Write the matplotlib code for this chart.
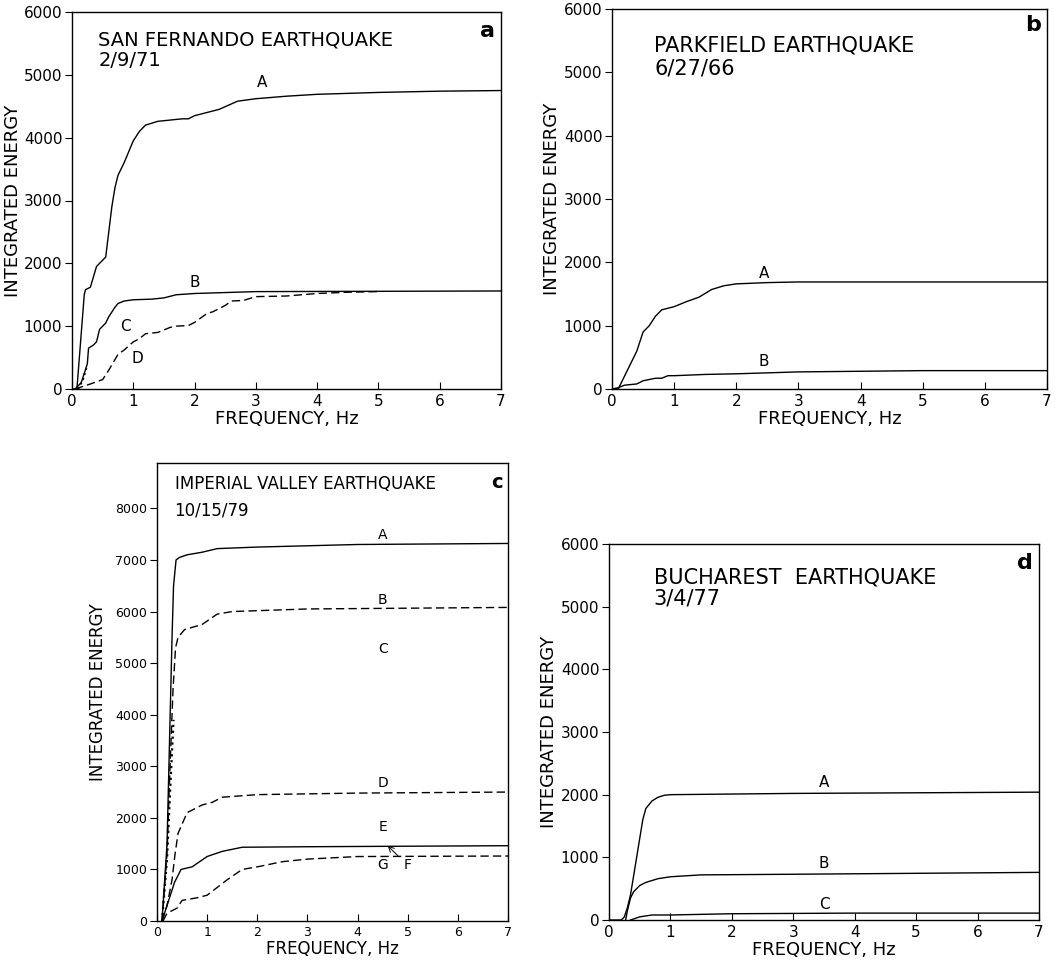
import numpy as np
import matplotlib.pyplot as plt

plt.rcParams['font.family'] = ['DejaVu Sans']

# ---- panel a: San Fernando ----
a_A_x = [0, 0.08, 0.2, 0.22, 0.3, 0.4, 0.45, 0.55, 0.6, 0.65, 0.7, 0.75, 0.85, 1.0, 1.1, 1.2, 1.4, 1.8, 1.9, 2.0, 2.4, 2.7, 3.0, 3.5, 4.0, 5.0, 6.0, 7.0]
a_A_y = [0, 0, 1500, 1580, 1620, 1950, 2000, 2100, 2500, 2900, 3200, 3400, 3600, 3950, 4100, 4200, 4260, 4300, 4300, 4350, 4450, 4580, 4620, 4660, 4690, 4720, 4740, 4750]
a_B_x = [0.05, 0.15, 0.25, 0.27, 0.35, 0.4, 0.45, 0.5, 0.55, 0.6, 0.7, 0.75, 0.85, 1.0, 1.3, 1.5, 1.7, 2.0, 3.0, 7.0]
a_B_y = [0, 100, 400, 650, 700, 750, 950, 1000, 1050, 1150, 1300, 1360, 1400, 1420, 1430, 1450, 1500, 1520, 1550, 1560]
a_C_x = [0.1, 0.18, 0.25]
a_C_y = [0, 150, 380]
a_D_x = [0.05, 0.3, 0.5, 0.6, 0.75, 0.85, 1.0, 1.1, 1.2, 1.4, 1.6, 1.7, 1.9, 2.0, 2.2, 2.3, 2.5, 2.6, 2.8, 3.0, 3.5, 4.0, 4.5, 5.0]
a_D_y = [0, 80, 150, 300, 550, 620, 750, 800, 880, 900, 980, 1000, 1010, 1060, 1200, 1230, 1330, 1400, 1410, 1470, 1480, 1520, 1540, 1550]

# ---- panel b: Parkfield ----
b_A_x = [0, 0.1, 0.2, 0.4, 0.5, 0.6, 0.7, 0.8, 1.0, 1.2, 1.4, 1.6, 1.8, 2.0, 2.5, 3.0, 7.0]
b_A_y = [0, 0, 200, 600, 900, 1000, 1150, 1250, 1300, 1380, 1450, 1570, 1630, 1660, 1680, 1690, 1690]
b_B_x = [0, 0.1, 0.2, 0.4, 0.5, 0.7, 0.8, 0.9, 1.0, 1.5, 2.0, 3.0, 5.0, 7.0]
b_B_y = [0, 20, 60, 80, 130, 170, 170, 210, 210, 230, 240, 270, 290, 290]

# ---- panel c: Imperial Valley ----
c_A_x = [0.1, 0.2, 0.25, 0.3, 0.33, 0.38, 0.45, 0.6, 0.9, 1.2, 2.0, 4.0, 7.0]
c_A_y = [0, 1500, 3500, 5500, 6500, 7000, 7050, 7100, 7150, 7220, 7250, 7300, 7320]
c_B_x = [0.1, 0.2, 0.26, 0.32, 0.37, 0.42, 0.55, 0.9, 1.2, 1.5, 3.0, 7.0]
c_B_y = [0, 1300, 3000, 4500, 5300, 5500, 5650, 5750, 5950, 6000, 6050, 6080]
c_C_x = [0.1, 0.2, 0.27, 0.33]
c_C_y = [0, 1200, 2700, 3900]
c_D_x = [0.1, 0.2, 0.3, 0.36, 0.42, 0.6, 0.9, 1.1, 1.3, 2.0, 4.0, 7.0]
c_D_y = [0, 300, 800, 1300, 1700, 2100, 2250, 2300, 2400, 2450, 2480, 2500]
c_E_x = [0.1, 0.2, 0.35, 0.48, 0.7, 1.0, 1.3, 1.7, 3.0, 7.0]
c_E_y = [0, 300, 750, 1000, 1050, 1250, 1350, 1430, 1440, 1460]
c_G_x = [0.12, 0.2, 0.4, 0.5, 0.8, 1.0, 1.2, 1.4, 1.7, 2.0, 2.5, 3.0, 4.0, 7.0]
c_G_y = [0, 150, 250, 400, 450, 500, 650, 800, 1000, 1050, 1150, 1200, 1250, 1260]

# ---- panel d: Bucharest ----
d_A_x = [0, 0.2, 0.25, 0.3, 0.35, 0.4, 0.5, 0.55, 0.6, 0.7, 0.8, 0.9, 1.0, 2.0, 3.0, 7.0]
d_A_y = [0, 0, 50, 200, 400, 700, 1300, 1600, 1780, 1900, 1960, 1990, 2000, 2010, 2020, 2040]
d_B_x = [0.27, 0.3, 0.35, 0.4, 0.5, 0.6, 0.8, 1.0, 1.5, 3.0, 7.0]
d_B_y = [0, 150, 350, 450, 550, 600, 660, 690, 720, 730, 760]
d_C_x = [0.35, 0.5, 0.7, 1.0, 2.0, 4.0, 7.0]
d_C_y = [0, 50, 80, 80, 100, 110, 110]

DASH = (0, (6, 3))
LW = 1.0


def setup_axes(ax, ymax, yticks, fs_tick, fs_label, pad=2):
    ax.set_xlim(0, 7)
    ax.set_ylim(0, ymax)
    ax.set_xticks(range(0, 8))
    ax.set_yticks(yticks)
    ax.tick_params(axis='x', direction='in', length=5, labelsize=fs_tick, width=0.8)
    ax.tick_params(axis='y', direction='out', length=5, labelsize=fs_tick, width=0.8, pad=2)
    ax.set_xlabel("FREQUENCY, Hz", fontsize=fs_label, labelpad=1)
    ax.set_ylabel("INTEGRATED ENERGY", fontsize=fs_label, labelpad=pad)
    for s in ax.spines.values():
        s.set_linewidth(1.0)


fig = plt.figure(figsize=(10.55, 9.61), dpi=100)
W, H = 1055.0, 961.0


def box(l, r, t, b):
    return [l / W, 1 - b / H, (r - l) / W, (b - t) / H]


# panel a
ax = fig.add_axes(box(72, 501, 12, 389))
ax.plot(a_A_x, a_A_y, 'k-', lw=LW)
ax.plot(a_B_x, a_B_y, 'k-', lw=LW)
ax.plot(a_C_x, a_C_y, 'k:', lw=1.4)
ax.plot(a_D_x, a_D_y, 'k', ls=DASH, lw=LW)
setup_axes(ax, 6000, range(0, 6001, 1000), 11, 13, pad=1)
ax.text(3.1, 4800, "A", fontsize=11, ha='center')
ax.text(2.0, 1620, "B", fontsize=11, ha='center')
ax.text(0.87, 930, "C", fontsize=11, ha='center')
ax.text(1.07, 420, "D", fontsize=11, ha='center')
ax.text(0.43, 5700, "SAN FERNANDO EARTHQUAKE\n2/9/71", fontsize=14, va='top', linespacing=1.1)
ax.text(6.9, 5600, "a", fontsize=16, fontweight='bold', ha='right')

# panel b
ax = fig.add_axes(box(612, 1047, 9, 389))
ax.plot(b_A_x, b_A_y, 'k-', lw=LW)
ax.plot(b_B_x, b_B_y, 'k-', lw=LW)
setup_axes(ax, 6000, range(0, 6001, 1000), 11, 13)
ax.text(2.45, 1760, "A", fontsize=11, ha='center')
ax.text(2.45, 360, "B", fontsize=11, ha='center')
ax.text(0.68, 5580, "PARKFIELD EARTHQUAKE\n6/27/66", fontsize=15, va='top', linespacing=1.2)
ax.text(6.9, 5650, "b", fontsize=16, fontweight='bold', ha='right')

# panel c
ax = fig.add_axes(box(157, 508, 463, 921))
ax.plot(c_A_x, c_A_y, 'k-', lw=LW)
ax.plot(c_B_x, c_B_y, 'k', ls=DASH, lw=LW)
ax.plot(c_C_x, c_C_y, 'k:', lw=1.6)
ax.plot(c_D_x, c_D_y, 'k', ls=DASH, lw=LW)
ax.plot(c_E_x, c_E_y, 'k-', lw=LW)
ax.plot(c_G_x, c_G_y, 'k', ls=DASH, lw=LW)
setup_axes(ax, 8880, range(0, 8001, 1000), 9, 12, pad=6)
for lab, yy in [("A", 7400), ("B", 6150), ("C", 5200), ("D", 2600), ("E", 1750), ("G", 1000)]:
    ax.text(4.5, yy, lab, fontsize=10, ha='center')
ax.annotate("F", xy=(4.6, 1460), xytext=(5.0, 1000), fontsize=10, ha='center',
            arrowprops=dict(arrowstyle='->', lw=0.7, shrinkA=2, shrinkB=0))
ax.text(0.35, 8640, "IMPERIAL VALLEY EARTHQUAKE\n10/15/79", fontsize=12, va='top', linespacing=1.6)
ax.text(6.9, 8400, "c", fontsize=14, fontweight='bold', ha='right')

# panel d
ax = fig.add_axes(box(609, 1039, 544, 920))
ax.plot(d_A_x, d_A_y, 'k-', lw=LW)
ax.plot(d_B_x, d_B_y, 'k-', lw=LW)
ax.plot(d_C_x, d_C_y, 'k-', lw=LW)
setup_axes(ax, 6000, range(0, 6001, 1000), 11, 13)
ax.text(3.5, 2130, "A", fontsize=11, ha='center')
ax.text(3.5, 830, "B", fontsize=11, ha='center')
ax.text(3.5, 180, "C", fontsize=11, ha='center')
ax.text(0.73, 5620, "BUCHAREST  EARTHQUAKE\n3/4/77", fontsize=15, va='top', linespacing=1.05)
ax.text(6.9, 5600, "d", fontsize=16, fontweight='bold', ha='right')

fig.savefig("out.png", dpi=100)
